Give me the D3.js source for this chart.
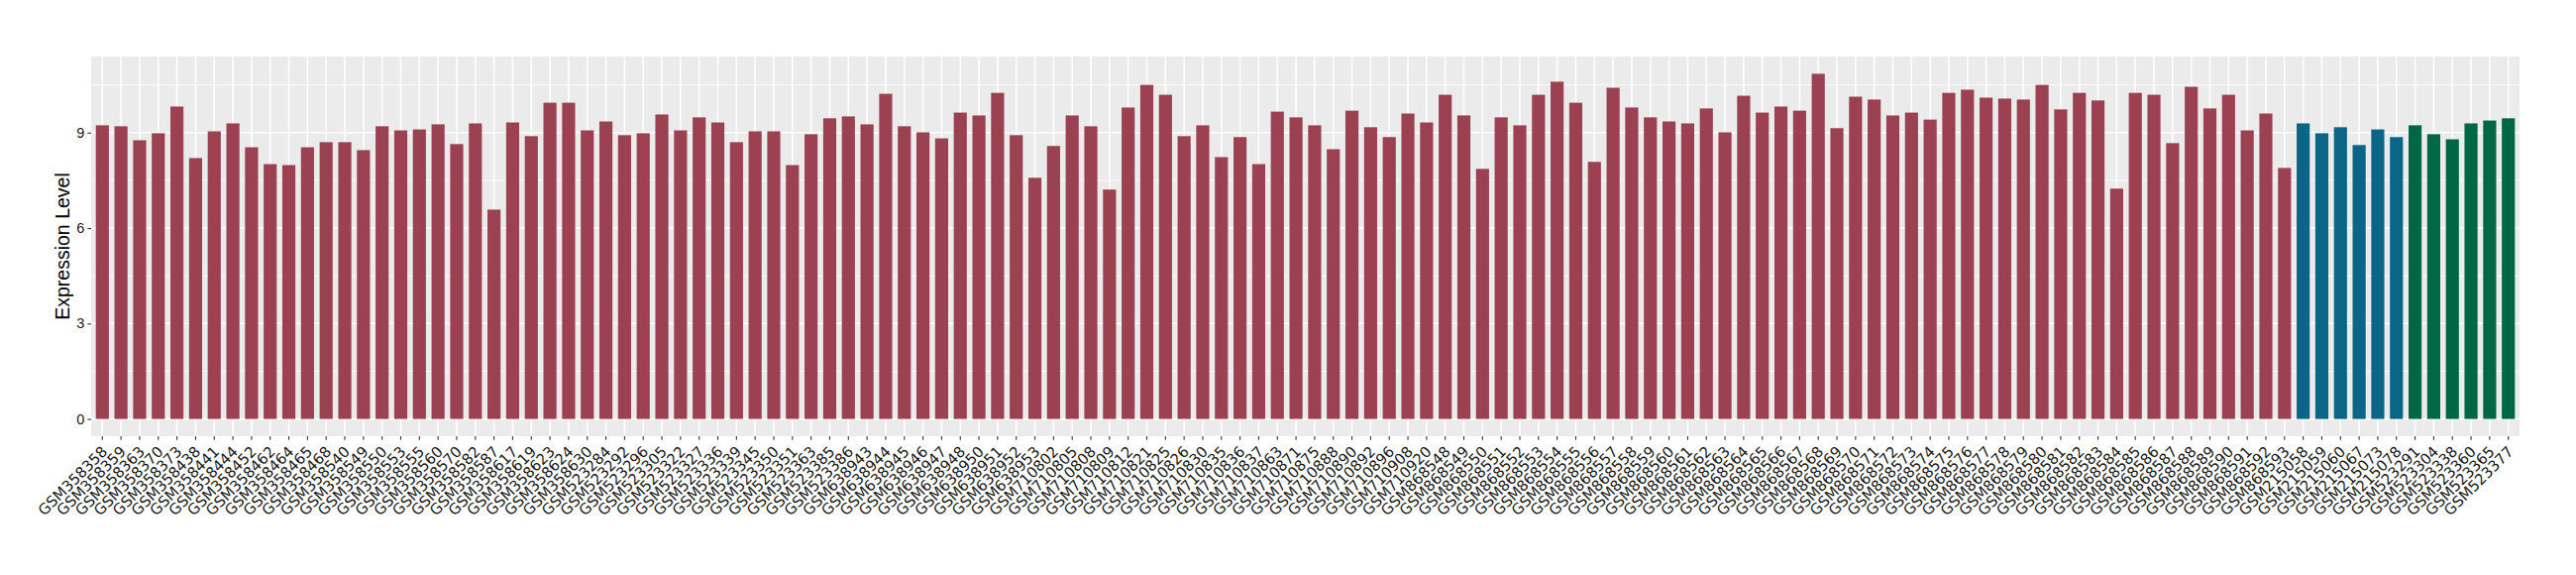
<!DOCTYPE html>
<html>
<head>
<meta charset="utf-8">
<script src="https://cdn.jsdelivr.net/npm/d3@7"></script>
<style>
  body { margin: 0; background: #fff; }
  svg { display: block; }
</style>
</head>
<body>
<svg id="chart" width="2600" height="580"></svg>
<script>
// sample ids, one group per colour
var samplesA = [
  "GSM358358","GSM358359","GSM358363","GSM358370","GSM358373","GSM358438","GSM358441","GSM358444",
  "GSM358452","GSM358462","GSM358464","GSM358465","GSM358468","GSM358540","GSM358549","GSM358550",
  "GSM358553","GSM358555","GSM358560","GSM358570","GSM358582","GSM358587","GSM358617","GSM358619",
  "GSM358623","GSM358624","GSM358630","GSM523284","GSM523292","GSM523296","GSM523305","GSM523322",
  "GSM523327","GSM523336","GSM523339","GSM523345","GSM523350","GSM523351","GSM523363","GSM523385",
  "GSM523386","GSM638943","GSM638944","GSM638945","GSM638946","GSM638947","GSM638948","GSM638950",
  "GSM638951","GSM638952","GSM638953","GSM710802","GSM710805","GSM710808","GSM710809","GSM710812",
  "GSM710821","GSM710825","GSM710826","GSM710830","GSM710835","GSM710836","GSM710837","GSM710863",
  "GSM710871","GSM710875","GSM710888","GSM710890","GSM710892","GSM710896","GSM710908","GSM710920",
  "GSM868548","GSM868549","GSM868550","GSM868551","GSM868552","GSM868553","GSM868554","GSM868555",
  "GSM868556","GSM868557","GSM868558","GSM868559","GSM868560","GSM868561","GSM868562","GSM868563",
  "GSM868564","GSM868565","GSM868566","GSM868567","GSM868568","GSM868569","GSM868570","GSM868571",
  "GSM868572","GSM868573","GSM868574","GSM868575","GSM868576","GSM868577","GSM868578","GSM868579",
  "GSM868580","GSM868581","GSM868582","GSM868583","GSM868584","GSM868585","GSM868586","GSM868587",
  "GSM868588","GSM868589","GSM868590","GSM868591","GSM868592","GSM868593"
];
var valuesA = [
  9.23, 9.20, 8.76, 8.98, 9.82, 8.20, 9.04, 9.29, 8.54, 8.01, 7.98, 8.54, 8.70, 8.70, 8.45, 9.20,
  9.07, 9.10, 9.26, 8.64, 9.29, 6.58, 9.32, 8.89, 9.94, 9.94, 9.07, 9.35, 8.92, 8.98, 9.57, 9.07,
  9.48, 9.32, 8.70, 9.04, 9.04, 7.98, 8.95, 9.45, 9.51, 9.26, 10.22, 9.20, 9.01, 8.82, 9.63, 9.54,
  10.25, 8.92, 7.58, 8.58, 9.54, 9.20, 7.21, 9.79, 10.50, 10.19, 8.89, 9.23, 8.23, 8.86, 8.01, 9.66,
  9.48, 9.23, 8.48, 9.69, 9.17, 8.86, 9.60, 9.32, 10.19, 9.54, 7.86, 9.48, 9.23, 10.19, 10.60, 9.94,
  8.08, 10.41, 9.79, 9.48, 9.35, 9.29, 9.76, 9.01, 10.16, 9.63, 9.82, 9.69, 10.85, 9.14, 10.13, 10.04,
  9.54, 9.63, 9.41, 10.25, 10.35, 10.10, 10.07, 10.04, 10.50, 9.73, 10.25, 10.01, 7.24, 10.25, 10.19, 8.67,
  10.44, 9.76, 10.19, 9.07, 9.60, 7.89
];
var samplesB = ["GSM215058","GSM215059","GSM215060","GSM215067","GSM215073","GSM215078"];
var valuesB = [9.29, 8.98, 9.17, 8.61, 9.10, 8.86];
var samplesC = ["GSM523291","GSM523304","GSM523338","GSM523360","GSM523365","GSM523377"];
var valuesC = [9.23, 8.95, 8.79, 9.29, 9.38, 9.45];

var groupNames = ["A", "B", "C"];
var groupColors = ["#9B4151", "#0B6586", "#006745"];
var yTicks = [0, 3, 6, 9];
var yMinor = [1.5, 4.5, 7.5, 10.5];

var rows = [];
[[samplesA, valuesA], [samplesB, valuesB], [samplesC, valuesC]].forEach(function(g, gi) {
  g[0].forEach(function(s, i) {
    rows.push({ sample: s, value: g[1][i], group: groupNames[gi] });
  });
});

var svg = d3.select("#chart");
var margin = { top: 57, right: 57, bottom: 140, left: 92 };
var W = 2600, H = 580;
var pw = W - margin.left - margin.right;
var ph = H - margin.top - margin.bottom;

var maxV = d3.max(rows, function(d) { return d.value; });
var x = d3.scaleBand()
  .domain(rows.map(function(d) { return d.sample; }))
  .range([0, pw])
  .paddingInner(0.3)
  .paddingOuter(0.25);
var y = d3.scaleLinear()
  .domain([-0.05 * maxV, maxV * 1.05])
  .range([ph, 0]);
var color = d3.scaleOrdinal().domain(groupNames).range(groupColors);

var g = svg.append("g").attr("transform", "translate(" + margin.left + "," + margin.top + ")");

g.append("rect").attr("width", pw).attr("height", ph).attr("fill", "#EBEBEB");

// grid
g.selectAll(".minor").data(yMinor).enter().append("line")
  .attr("x1", 0).attr("x2", pw)
  .attr("y1", function(d) { return y(d); }).attr("y2", function(d) { return y(d); })
  .attr("stroke", "#fff").attr("stroke-width", 0.8);
g.selectAll(".major").data(yTicks).enter().append("line")
  .attr("x1", 0).attr("x2", pw)
  .attr("y1", function(d) { return y(d); }).attr("y2", function(d) { return y(d); })
  .attr("stroke", "#fff").attr("stroke-width", 1.6);
g.selectAll(".vgrid").data(x.domain()).enter().append("line")
  .attr("x1", function(d) { return x(d) + x.bandwidth() / 2; })
  .attr("x2", function(d) { return x(d) + x.bandwidth() / 2; })
  .attr("y1", 0).attr("y2", ph)
  .attr("stroke", "#fff").attr("stroke-width", 1.6);

// bars
g.selectAll(".bar").data(rows).enter().append("rect")
  .attr("x", function(d) { return x(d.sample); })
  .attr("width", x.bandwidth())
  .attr("y", function(d) { return y(d.value); })
  .attr("height", function(d) { return y(0) - y(d.value); })
  .attr("fill", function(d) { return color(d.group); });

// y axis
var yAxis = g.append("g").call(d3.axisLeft(y).tickValues(yTicks).tickSize(3.7).tickPadding(3));
yAxis.select(".domain").remove();
yAxis.selectAll(".tick line").attr("stroke", "#333").attr("stroke-width", 1.1);
yAxis.selectAll("text").attr("font-family", "Liberation Sans, Arial, sans-serif")
  .attr("font-size", 14.5).attr("fill", "#1a1a1a");

// x axis
var xAxis = g.append("g").attr("transform", "translate(0," + ph + ")")
  .call(d3.axisBottom(x).tickSize(3.7).tickPadding(3));
xAxis.select(".domain").remove();
xAxis.selectAll(".tick line").attr("stroke", "#333").attr("stroke-width", 1.1);
xAxis.selectAll("text")
  .attr("font-family", "DejaVu Sans, sans-serif")
  .attr("font-size", 15)
  .attr("fill", "#1a1a1a")
  .attr("text-anchor", "end")
  .attr("dy", "0.75em")
  .attr("transform", "translate(-2,8.5) rotate(-45)")
  .attr("y", 0).attr("x", 0);

// axis title
svg.append("text")
  .attr("transform", "translate(70," + (margin.top + ph / 2) + ") rotate(-90)")
  .attr("text-anchor", "middle")
  .attr("font-family", "Liberation Sans, Arial, sans-serif")
  .attr("font-size", 19.5)
  .attr("fill", "#000")
  .text("Expression Level");
</script>
</body>
</html>
